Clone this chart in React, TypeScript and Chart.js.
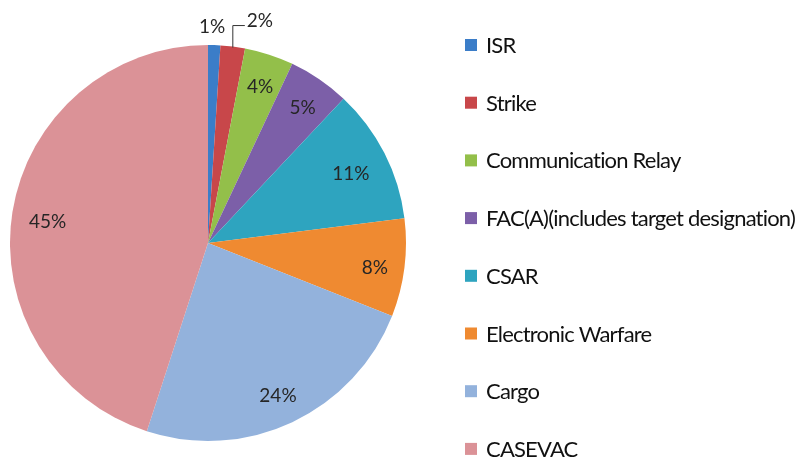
import React, { useEffect, useRef } from "react";
import { Chart, registerables } from "chart.js";

Chart.register(...registerables);

const categories = [
  "ISR",
  "Strike",
  "Communication Relay",
  "FAC(A)(includes target designation)",
  "CSAR",
  "Electronic Warfare",
  "Cargo",
  "CASEVAC",
];
const values = [1, 2, 4, 5, 11, 8, 24, 45];
const colors = ["#3b7dc8", "#c8474a", "#93bf4a", "#7c5fa8", "#2ea4bf", "#ef8a31", "#93b2dc", "#db9297"];

const FONT = "Lato, 'Open Sans', sans-serif";

const labelPlugin = {
  id: "pieLabels",
  afterDatasetsDraw(chart: any) {
    const ctx = chart.ctx;
    const meta = chart.getDatasetMeta(0);
    const total = values.reduce((a, b) => a + b, 0);
    ctx.save();
    ctx.fillStyle = "#262626";
    ctx.font = `19px ${FONT}`;
    ctx.textAlign = "center";
    ctx.textBaseline = "middle";
    meta.data.forEach((arc: any, i: number) => {
      const pct = Math.round((values[i] / total) * 100) + "%";
      const mid = (arc.startAngle + arc.endAngle) / 2;
      const r = arc.outerRadius;
      if (i === 0) {
        ctx.fillText(pct, arc.x + Math.cos(mid) * r - 2, arc.y - r - 18);
      } else if (i === 1) {
        const sx = arc.x + Math.cos(mid) * r;
        const sy = arc.y + Math.sin(mid) * r;
        ctx.strokeStyle = "#333";
        ctx.lineWidth = 1;
        ctx.beginPath();
        ctx.moveTo(sx, sy + 1);
        ctx.lineTo(sx, sy - 21);
        ctx.lineTo(sx + 12, sy - 21);
        ctx.stroke();
        ctx.textAlign = "left";
        ctx.fillText(pct, sx + 14, sy - 26);
        ctx.textAlign = "center";
      } else {
        const f = i === 7 ? 0.82 : i === 4 ? 0.81 : i === 6 ? 0.83 : 0.85;
        ctx.fillText(pct, arc.x + Math.cos(mid) * r * f, arc.y + Math.sin(mid) * r * f + 4);
      }
    });
    ctx.restore();
  },
};

const legendPlugin = {
  id: "customLegend",
  afterDraw(chart: any) {
    const ctx = chart.ctx;
    ctx.save();
    ctx.textBaseline = "middle";
    ctx.textAlign = "left";
    ctx.font = `22px ${FONT}`;
    try {
      (ctx as any).letterSpacing = "-0.8px";
    } catch (e) {}
    categories.forEach((c, i) => {
      const y = 45 + i * 57.7;
      ctx.fillStyle = colors[i];
      ctx.fillRect(465, y - 6, 12, 12);
      ctx.fillStyle = "#111";
      ctx.fillText(c, 486, y + 1);
    });
    ctx.restore();
  },
};

export default function App() {
  const ref = useRef<HTMLCanvasElement>(null);
  useEffect(() => {
    const chart = new Chart(ref.current!, {
      type: "pie",
      data: {
        labels: categories,
        datasets: [
          {
            data: values,
            backgroundColor: colors,
            borderWidth: 0,
          },
        ],
      },
      options: {
        animation: false,
        responsive: false,
        layout: { padding: { left: 10, right: 399, top: 45, bottom: 22 } },
        plugins: { legend: { display: false }, tooltip: { enabled: false } },
      },
      plugins: [labelPlugin, legendPlugin],
    });
    return () => chart.destroy();
  }, []);
  return (
    <div style={{ position: "absolute", left: 0, top: 0, width: 805, height: 463, background: "#fff" }}>
      <canvas ref={ref} width={805} height={463} />
    </div>
  );
}
